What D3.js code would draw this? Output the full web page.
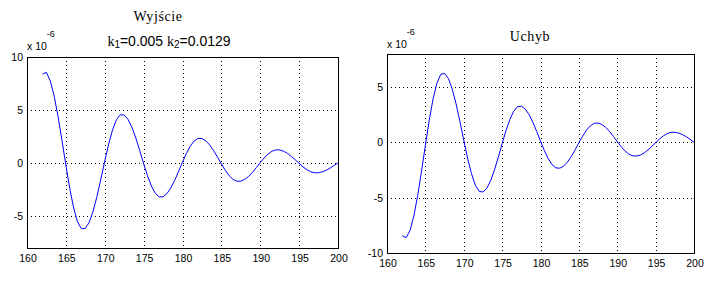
<!DOCTYPE html>
<html>
<head>
<meta charset="utf-8">
<script src="https://cdn.jsdelivr.net/npm/d3@7"></script>
<style>
  body { margin: 0; background: #fff; }
  svg { display: block; }
</style>
</head>
<body>
<div id="chart"></div>
<script>
// time axis (s), sampled every 0.5
var czas = d3.range(162, 200.001, 0.5);

// Wyjscie, in units of 1e-6
var wyjscie = [8.40, 8.55, 7.73, 6.30, 4.37, 2.13, -0.19, -2.39, -4.23, -5.54, -6.19,
  -6.15, -5.58, -4.54, -3.14, -1.50, 0.19, 1.79, 3.13, 4.08, 4.56,
  4.53, 4.12, 3.36, 2.36, 1.18, -0.04, -1.19, -2.16, -2.85, -3.19,
  -3.17, -2.87, -2.34, -1.62, -0.78, 0.09, 0.91, 1.60, 2.09, 2.33,
  2.31, 2.10, 1.71, 1.18, 0.57, -0.07, -0.67, -1.18, -1.54, -1.71,
  -1.70, -1.54, -1.26, -0.87, -0.42, 0.05, 0.49, 0.85, 1.12, 1.25,
  1.24, 1.12, 0.92, 0.63, 0.31, -0.03, -0.36, -0.62, -0.82, -0.91,
  -0.91, -0.82, -0.67, -0.46, -0.22, 0.02];

// Uchyb, in units of 1e-6
var uchyb = [-8.45, -8.61, -7.96, -6.64, -4.80, -2.59, -0.26, 2.00, 3.93, 5.36, 6.16,
  6.25, 5.78, 4.82, 3.49, 1.90, 0.21, -1.42, -2.81, -3.85, -4.42,
  -4.49, -4.15, -3.46, -2.49, -1.34, -0.12, 1.06, 2.06, 2.82, 3.23,
  3.28, 3.03, 2.53, 1.84, 1.00, 0.12, -0.73, -1.46, -2.00, -2.30,
  -2.33, -2.15, -1.79, -1.28, -0.68, -0.03, 0.59, 1.12, 1.51, 1.73,
  1.76, 1.63, 1.36, 0.99, 0.55, 0.08, -0.38, -0.76, -1.05, -1.21,
  -1.23, -1.14, -0.95, -0.68, -0.36, -0.02, 0.31, 0.59, 0.80, 0.91,
  0.92, 0.85, 0.71, 0.51, 0.28, 0.02];

var xTicks = [160, 165, 170, 175, 180, 185, 190, 195, 200];
var yTicksL = [-5, 0, 5, 10];
var yTicksR = [-10, -5, 0, 5];

var svgWidth = 707, svgHeight = 281;

var svg = d3.select("#chart")
  .append("svg")
  .attr("width", svgWidth)
  .attr("height", svgHeight);

var sans = "Liberation Sans, Arial, sans-serif";
var serif = "Liberation Serif, Times New Roman, serif";

function drawPanel(box, yDomain, yTicks, values, xLabelY) {
  var x = d3.scaleLinear().domain([160, 200]).range([box.left, box.right]);
  var y = d3.scaleLinear().domain(yDomain).range([box.bottom, box.top]);

  var g = svg.append("g");

  // dotted grid
  g.selectAll(".gx").data(xTicks.slice(1, -1)).enter().append("line")
    .attr("x1", d => Math.round(x(d)) + 0.5).attr("x2", d => Math.round(x(d)) + 0.5)
    .attr("y1", box.top).attr("y2", box.bottom)
    .style("stroke", "#000").style("stroke-dasharray", "1,3");
  g.selectAll(".gy").data(yTicks.filter(d => d > yDomain[0] && d < yDomain[1])).enter().append("line")
    .attr("y1", d => Math.round(y(d)) + 0.5).attr("y2", d => Math.round(y(d)) + 0.5)
    .attr("x1", box.left).attr("x2", box.right)
    .style("stroke", "#000").style("stroke-dasharray", "1,3");

  // curve
  var line = d3.line()
    .x((d, i) => x(czas[i]))
    .y(d => y(d));
  g.append("path")
    .datum(values)
    .attr("d", line)
    .style("fill", "none")
    .style("stroke", "#0000ff")
    .style("stroke-width", 1);

  // box
  g.append("rect")
    .attr("x", box.left + 0.5).attr("y", box.top + 0.5)
    .attr("width", box.right - box.left).attr("height", box.bottom - box.top)
    .style("fill", "none").style("stroke", "#000");

  // tick labels
  g.selectAll(".xl").data(xTicks).enter().append("text")
    .attr("x", d => x(d) + 1).attr("y", xLabelY)
    .attr("text-anchor", "middle")
    .style("font-family", sans).style("font-size", "10.5px")
    .text(d => d);
  g.selectAll(".yl").data(yTicks).enter().append("text")
    .attr("x", box.left - 4).attr("y", d => y(d) + 4)
    .attr("text-anchor", "end")
    .style("font-family", sans).style("font-size", "10.5px")
    .text(d => d);
}

drawPanel({left: 27, right: 338, top: 57, bottom: 248}, [-8, 10], yTicksL, wyjscie, 262);
drawPanel({left: 387, right: 694, top: 54, bottom: 253}, [-10, 8], yTicksR, uchyb, 267);

// exponent labels
function expo(xPos, yPos) {
  var t = svg.append("text")
    .attr("x", xPos).attr("y", yPos)
    .style("font-family", sans).style("font-size", "10.5px");
  t.append("tspan").text("x 10");
  t.append("tspan").attr("dy", -13).style("font-size", "9px").text("-6");
}
expo(27, 50);
expo(387, 48);

// titles
svg.append("text")
  .attr("x", 158).attr("y", 21)
  .attr("text-anchor", "middle")
  .style("font-family", serif).style("font-size", "14px").style("letter-spacing", "0.6px")
  .text("Wyjście");

var k = svg.append("text")
  .attr("x", 169).attr("y", 45.5)
  .attr("text-anchor", "middle")
  .style("font-family", sans).style("font-size", "14px");
k.append("tspan").style("font-family", serif).text("k");
k.append("tspan").attr("dy", 2).style("font-size", "10px").text("1");
k.append("tspan").attr("dy", -2).text("=0.005 ");
k.append("tspan").style("font-family", serif).text("k");
k.append("tspan").attr("dy", 2).style("font-size", "10px").text("2");
k.append("tspan").attr("dy", -2).text("=0.0129");

svg.append("text")
  .attr("x", 530).attr("y", 40.5)
  .attr("text-anchor", "middle")
  .style("font-family", serif).style("font-size", "14px").style("letter-spacing", "0.6px")
  .text("Uchyb");
</script>
</body>
</html>
